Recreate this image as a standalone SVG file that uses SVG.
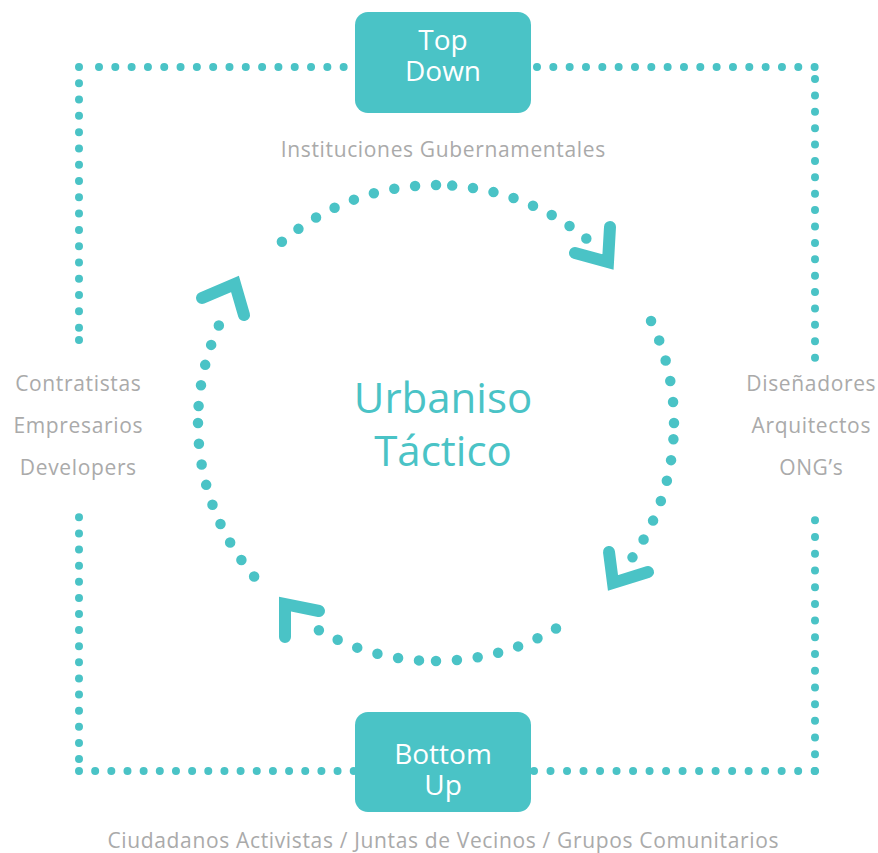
<svg xmlns="http://www.w3.org/2000/svg" width="878" height="853" viewBox="0 0 878 853">
<style>
.frame{fill:none;stroke:#4AC3C6;stroke-width:8;stroke-linecap:round}
.arc{fill:none;stroke:#4AC3C6;stroke-width:10.5;stroke-linecap:round}
.head{fill:none;stroke:#4AC3C6;stroke-width:12;stroke-linecap:round;stroke-linejoin:miter}
.box{fill:#4AC3C6}
.boxt{fill:#FFFFFF;font-family:"Open Sans","Noto Sans",sans-serif;font-size:28px;text-anchor:middle}
.gray{fill:#AAAAAA;font-family:"Open Sans","Noto Sans",sans-serif;font-size:21px;letter-spacing:0.65px;text-anchor:middle}
.title{fill:#4AC3C6;font-family:"Open Sans","Noto Sans",sans-serif;font-size:42px;text-anchor:middle}
</style>
<rect width="878" height="853" fill="#FFFFFF"/>
<g id="connectors">
  <path class="frame" d="M99,67 H344" stroke-dasharray="0 16.31"/>
  <path class="frame" d="M79,67 V328" stroke-dasharray="0 16.29"/>
  <circle cx="79" cy="340" r="4" fill="#4AC3C6"/>
  <path class="frame" d="M537,67 H815" stroke-dasharray="0 16.33"/>
  <path class="frame" d="M815,79 V358" stroke-dasharray="0 16.39"/>
  <path class="frame" d="M815,771 V520" stroke-dasharray="0 16.71"/>
  <path class="frame" d="M79,759 V517" stroke-dasharray="0 16.11"/>
  <path class="frame" d="M79,771 H354" stroke-dasharray="0 16.16"/>
  <path class="frame" d="M534,771 H815" stroke-dasharray="0 16.51"/>

  <path class="arc" d="M436,185 A238,238 0 0 0 281.8,241.8" stroke-dasharray="0 20.95"/>
  <path class="arc" d="M452.2,185.6 A238,238 0 0 1 586.4,238.6" stroke-dasharray="0 20.92"/>
  <path class="arc" d="M674,423 A238,238 0 0 0 651.0,320.9" stroke-dasharray="0 21.07"/>
  <path class="arc" d="M673.4,439.2 A238,238 0 0 1 632.4,557.5" stroke-dasharray="0 21.08"/>
  <path class="arc" d="M436,661 A238,238 0 0 0 556.1,628.5" stroke-dasharray="0 20.95"/>
  <path class="arc" d="M419.0,660.4 A238,238 0 0 1 318.8,630.2" stroke-dasharray="0 21.07"/>
  <path class="arc" d="M198,423 A238,238 0 0 0 254.2,576.6" stroke-dasharray="0 20.85"/>
  <path class="arc" d="M198.6,406.0 A238,238 0 0 1 218.9,325.4" stroke-dasharray="0 20.85"/>

  <polyline class="head" points="610,227 608,262 575,253"/>
  <polyline class="head" points="609,552 613,583 648,572"/>
  <polyline class="head" points="285,637 285,604 319,611"/>
  <polyline class="head" points="202,298 235,284 244,315"/>
</g>
<g id="top-down">
  <rect class="box" x="355" y="12" width="176" height="101" rx="13"/>
  <text class="boxt"><tspan x="443" y="50">Top</tspan><tspan x="443" y="81">Down</tspan></text>
</g>
<g id="bottom-up">
  <rect class="box" x="355" y="712" width="176" height="100" rx="13"/>
  <text class="boxt"><tspan x="443" y="764">Bottom</tspan><tspan x="443" y="795">Up</tspan></text>
</g>
<g id="center">
  <text class="title" x="443" y="413">Urbaniso</text>
  <text class="title" x="443" y="466">Táctico</text>
</g>
<g id="label-top">
  <text class="gray" x="443.3" y="157">Instituciones Gubernamentales</text>
</g>
<g id="label-left">
  <text class="gray" x="78.3" y="391">Contratistas</text>
  <text class="gray" x="78.3" y="433">Empresarios</text>
  <text class="gray" x="78.3" y="475">Developers</text>
</g>
<g id="label-right">
  <text class="gray" x="811.3" y="391">Diseñadores</text>
  <text class="gray" x="811.3" y="433">Arquitectos</text>
  <text class="gray" x="811.3" y="475">ONG’s</text>
</g>
<g id="label-bottom">
  <text class="gray" x="443.3" y="848">Ciudadanos Activistas / Juntas de Vecinos / Grupos Comunitarios</text>
</g>
</svg>
